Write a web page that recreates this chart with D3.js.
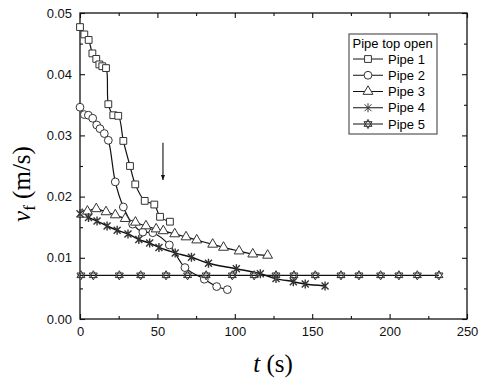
<!DOCTYPE html>
<html>
<head>
<meta charset="utf-8">
<script src="https://cdn.jsdelivr.net/npm/d3@7"></script>
<style>
  body { margin: 0; background: #fff; }
  svg { display: block; }
  .tick text { font-family: "Liberation Sans", Arial, sans-serif; font-size: 13px; fill: #111; }
</style>
</head>
<body>
<div id="plot"></div>
<script>
// data (t in s, v in m/s)
var pipe1T = [0, 2.8, 5.6, 8, 10.5, 12.5, 14.4, 16.8, 18.3, 21.5, 24.7, 28, 32.3, 35.7, 41.8, 48, 51.7, 58.1];
var pipe1V = [0.0477, 0.0465, 0.0456, 0.0434, 0.0425, 0.0416, 0.0413, 0.041, 0.0351, 0.0333, 0.0332, 0.0291, 0.025, 0.022, 0.0193, 0.0187, 0.0167, 0.0159];

var pipe2T = [0, 2.8, 5.4, 8.2, 10.8, 12.9, 15.7, 18.3, 22.8, 28, 34, 40.6, 47, 57.7, 67.8, 80.3, 88.3, 95.2];
var pipe2V = [0.0346, 0.0334, 0.0333, 0.0328, 0.0317, 0.0311, 0.0303, 0.0292, 0.0224, 0.0183, 0.0155, 0.0142, 0.0141, 0.0121, 0.0084, 0.0065, 0.0053, 0.0048];

var pipe3T = [1.5, 4.8, 10.5, 16.8, 22.8, 29.2, 35.8, 42.6, 49.2, 53.8, 61.2, 68.5, 75.4, 85.7, 92.7, 102.8, 111.6, 121.2];
var pipe3V = [0.0171, 0.0176, 0.018, 0.0175, 0.017, 0.0164, 0.0158, 0.0152, 0.0147, 0.0144, 0.0139, 0.0134, 0.0129, 0.0122, 0.0117, 0.0111, 0.0106, 0.0104];

var pipe4T = [0, 5.5, 11, 17.5, 24, 31, 38, 45, 51, 61.5, 72, 83, 101, 116.5, 126.6, 137.8, 145.5, 158.3];
var pipe4V = [0.0172, 0.0166, 0.016, 0.0152, 0.0145, 0.0139, 0.013, 0.0124, 0.0117, 0.0108, 0.0101, 0.0091, 0.0082, 0.0074, 0.0066, 0.0061, 0.0057, 0.0054];

var pipe5T = [0.6, 8.6, 25.4, 39.2, 55.6, 69.5, 81.5, 98.4, 112.5, 126.6, 138.2, 152, 168.6, 180.2, 194.2, 206, 217.9, 231.9];
var pipe5V = [0.00714, 0.00714, 0.00714, 0.00714, 0.00714, 0.00714, 0.00714, 0.00714, 0.00714, 0.00714, 0.00714, 0.00714, 0.00714, 0.00714, 0.00714, 0.00714, 0.00714, 0.00714];

var seriesNames = ["Pipe 1", "Pipe 2", "Pipe 3", "Pipe 4", "Pipe 5"];
var legendTitle = "Pipe top open";
var xTicks = [0, 50, 100, 150, 200, 250];
var xMinor = [25, 75, 125, 175, 225];
var yTicks = [0, 0.01, 0.02, 0.03, 0.04, 0.05];
var yMinor = [0.005, 0.015, 0.025, 0.035, 0.045];
// arrow annotation: t, v from, v to
var arrowT = 53.6, arrowV = [0.0288, 0.0227];

var width = 484, height = 383;
var margin = {top: 13, right: 17, bottom: 64, left: 80};

var svg = d3.select("#plot").append("svg")
    .attr("width", width)
    .attr("height", height);

var x = d3.scaleLinear().domain([0, 250]).range([margin.left, width - margin.right]);
var y = d3.scaleLinear().domain([0, 0.05]).range([height - margin.bottom, margin.top]);

// symbols
var star = "M-3.5,-3.5L3.5,3.5M-3.5,3.5L3.5,-3.5M0,-4.5L0,4.5";
var hexa = "M0,-4.6L4,2.3L-4,2.3ZM0,4.6L4,-2.3L-4,-2.3Z";
var symbols = [
    d3.symbol(d3.symbolSquare, 46)(),
    d3.symbol(d3.symbolCircle, 48)(),
    d3.symbol(d3.symbolTriangle, 42)(),
    star,
    hexa
];

var series = [
    d3.zip(pipe1T, pipe1V),
    d3.zip(pipe2T, pipe2V),
    d3.zip(pipe3T, pipe3V),
    d3.zip(pipe4T, pipe4V),
    d3.zip(pipe5T, pipe5V)
];

// axes (ticks inward on all four sides)
function styleAxis(g) {
    g.select(".domain").remove();
    g.selectAll(".tick line").attr("stroke", "#111").attr("stroke-width", 1.1);
}
var yh = height - margin.bottom;
svg.append("g").attr("transform", "translate(0," + yh + ")")
    .call(d3.axisBottom(x).tickValues(xTicks).tickSize(-5).tickPadding(8).tickFormat(d3.format("d")))
    .call(styleAxis);
svg.append("g").attr("transform", "translate(0," + yh + ")")
    .call(d3.axisBottom(x).tickValues(xMinor).tickSize(-3).tickFormat(""))
    .call(styleAxis);
svg.append("g").attr("transform", "translate(0," + margin.top + ")")
    .call(d3.axisTop(x).tickValues(xTicks).tickSize(-5).tickFormat(""))
    .call(styleAxis);
svg.append("g").attr("transform", "translate(0," + margin.top + ")")
    .call(d3.axisTop(x).tickValues(xMinor).tickSize(-3).tickFormat(""))
    .call(styleAxis);
svg.append("g").attr("transform", "translate(" + margin.left + ",0)")
    .call(d3.axisLeft(y).tickValues(yTicks).tickSize(-5).tickPadding(8).tickFormat(d3.format(".2f")))
    .call(styleAxis);
svg.append("g").attr("transform", "translate(" + margin.left + ",0)")
    .call(d3.axisLeft(y).tickValues(yMinor).tickSize(-3).tickFormat(""))
    .call(styleAxis);
svg.append("g").attr("transform", "translate(" + (width - margin.right) + ",0)")
    .call(d3.axisRight(y).tickValues(yTicks).tickSize(-5).tickFormat(""))
    .call(styleAxis);
svg.append("g").attr("transform", "translate(" + (width - margin.right) + ",0)")
    .call(d3.axisRight(y).tickValues(yMinor).tickSize(-3).tickFormat(""))
    .call(styleAxis);

// frame
svg.append("rect")
    .attr("x", x(0)).attr("y", y(0.05))
    .attr("width", x(250) - x(0)).attr("height", y(0) - y(0.05))
    .attr("fill", "none").attr("stroke", "#111").attr("stroke-width", 1.3);

// lines
var smooth = d3.line().x(d => x(d[0])).y(d => y(d[1])).curve(d3.curveCatmullRom.alpha(0.5));
var straight = d3.line().x(d => x(d[0])).y(d => y(d[1]));
series.forEach(function(s, i) {
    var pts = s;
    if (i == 4) pts = [[0, s[0][1]]].concat(s);
    svg.append("path")
        .attr("d", i == 4 ? straight(pts) : smooth(pts))
        .attr("fill", "none")
        .attr("stroke", "#111")
        .attr("stroke-width", i == 3 ? 1.5 : 1.2);
});

// markers
series.forEach(function(s, i) {
    svg.selectAll(".m" + i)
        .data(s)
        .enter()
        .append("path")
        .attr("transform", d => "translate(" + x(d[0]) + "," + y(d[1]) + ")")
        .attr("d", symbols[i])
        .attr("fill", i == 3 ? "none" : "#fff")
        .attr("stroke", "#333")
        .attr("stroke-width", i == 3 ? 1.4 : 1);
});

// arrow
svg.append("defs").append("marker")
    .attr("id", "ah").attr("viewBox", "0 0 10 10")
    .attr("refX", 10).attr("refY", 5)
    .attr("markerWidth", 5).attr("markerHeight", 5)
    .attr("orient", "auto")
    .append("path").attr("d", "M0,1L10,5L0,9Z").attr("fill", "#111");
svg.append("line")
    .attr("x1", x(arrowT)).attr("x2", x(arrowT))
    .attr("y1", y(arrowV[0])).attr("y2", y(arrowV[1]))
    .attr("stroke", "#111").attr("stroke-width", 1.1)
    .attr("marker-end", "url(#ah)");

// legend
var lg = svg.append("g").attr("transform", "translate(349,34)");
lg.append("rect").attr("width", 88).attr("height", 100)
    .attr("fill", "#fff").attr("stroke", "#555").attr("stroke-width", 1.2);
lg.append("text").attr("x", 3.5).attr("y", 14)
    .style("font-family", "Liberation Sans, Arial, sans-serif").style("font-size", "13px")
    .text(legendTitle);
seriesNames.forEach(function(name, i) {
    var cy = 25 + i * 16.25;
    lg.append("line").attr("x1", 4).attr("x2", 34).attr("y1", cy).attr("y2", cy)
        .attr("stroke", "#111").attr("stroke-width", 1);
    lg.append("path").attr("transform", "translate(19," + cy + ")")
        .attr("d", symbols[i])
        .attr("fill", i == 3 ? "none" : "#fff")
        .attr("stroke", "#333").attr("stroke-width", 1);
    lg.append("text").attr("x", 39).attr("y", cy + 4.6)
        .style("font-family", "Liberation Sans, Arial, sans-serif").style("font-size", "13px")
        .text(name);
});

// axis titles
var xt = svg.append("text")
    .attr("x", 273).attr("y", 372)
    .attr("text-anchor", "middle")
    .style("font-family", "Liberation Serif, Times New Roman, serif")
    .style("font-size", "25px");
xt.append("tspan").style("font-style", "italic").text("t");
xt.append("tspan").text(" (s)");

var yt = svg.append("text")
    .attr("transform", "translate(30,184) rotate(-90)")
    .attr("text-anchor", "middle")
    .style("font-family", "Liberation Serif, Times New Roman, serif")
    .style("font-size", "25px");
yt.append("tspan").style("font-style", "italic").text("v");
yt.append("tspan").style("font-size", "17px").attr("dy", 5).text("f");
yt.append("tspan").attr("dy", -5).text(" (m/s)");
</script>
</body>
</html>
